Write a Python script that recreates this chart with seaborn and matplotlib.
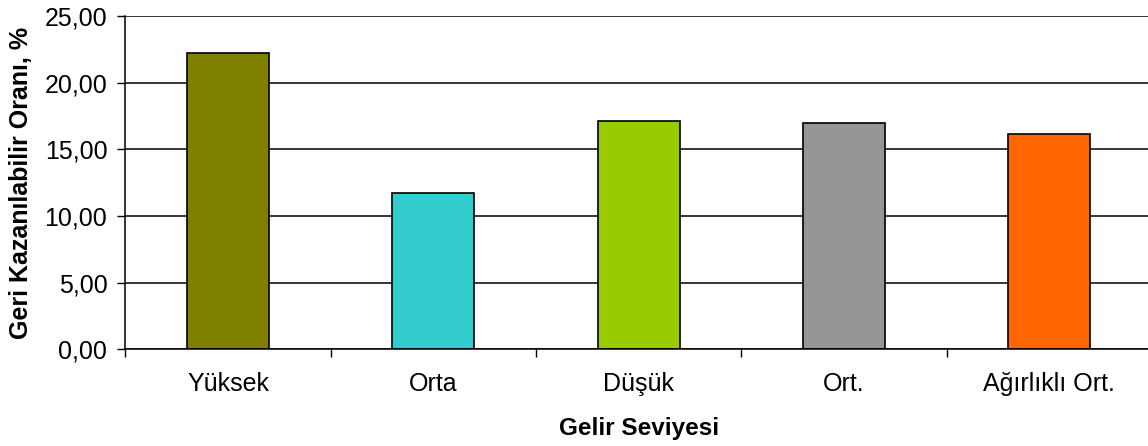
import matplotlib
matplotlib.use("Agg")
import matplotlib.pyplot as plt
import matplotlib.ticker as mticker
import seaborn as sns
import pandas as pd

categories = ["Yüksek", "Orta", "Düşük", "Ort.", "Ağırlıklı Ort."]
values = [22.25, 11.71, 17.15, 17.00, 16.18]
colors = ["#808000", "#33CCCC", "#99CC00", "#969696", "#FF6600"]
yticks = [0, 5, 10, 15, 20, 25]

sns.set_theme(style="white")
plt.rcParams["font.family"] = ["Liberation Sans", "DejaVu Sans"]

df = pd.DataFrame({"Gelir Seviyesi": categories, "Oran": values})

fig = plt.figure(figsize=(11.48, 4.46), dpi=100)
ax = fig.add_axes([0.1092, 0.2168, 0.8943, 0.7473])

sns.barplot(data=df, x="Gelir Seviyesi", y="Oran", hue="Gelir Seviyesi",
            palette=colors, width=0.4, edgecolor="black", linewidth=1.2,
            saturation=1, legend=False, ax=ax, zorder=3)

ax.set_xlim(-0.5, len(categories) - 0.5)
ax.set_ylim(0, 25)
ax.set_yticks(yticks)
ax.yaxis.set_major_formatter(mticker.FuncFormatter(lambda v, p: f"{v:.2f}".replace(".", ",")))
ax.grid(axis="y", color="black", linewidth=1.1, zorder=0)
ax.grid(axis="x", visible=False)

# category boundary ticks on the x axis
ax.set_xticks([i - 0.5 for i in range(len(categories) + 1)], minor=True)
ax.tick_params(axis="x", which="major", length=0, pad=16.5, labelsize=18, colors="black")
ax.tick_params(axis="x", which="minor", length=6, width=1, color="black", direction="out", bottom=True)
ax.tick_params(axis="y", which="major", length=6, width=1, color="black", direction="out", left=True,
               pad=7, labelsize=18, labelcolor="black")

for side in ["top", "right"]:
    ax.spines[side].set_visible(False)
for side in ["left", "bottom"]:
    ax.spines[side].set_color("black")
    ax.spines[side].set_linewidth(1.1)
    ax.spines[side].set_zorder(4)

ax.set_xlabel("Gelir Seviyesi", fontsize=17.5, fontweight="bold", color="black", labelpad=15)
ax.set_ylabel("Geri Kazanılabilir Oranı, %", fontsize=18, fontweight="bold", color="black", labelpad=8)

fig.savefig("out.png", dpi=100, facecolor="white")
